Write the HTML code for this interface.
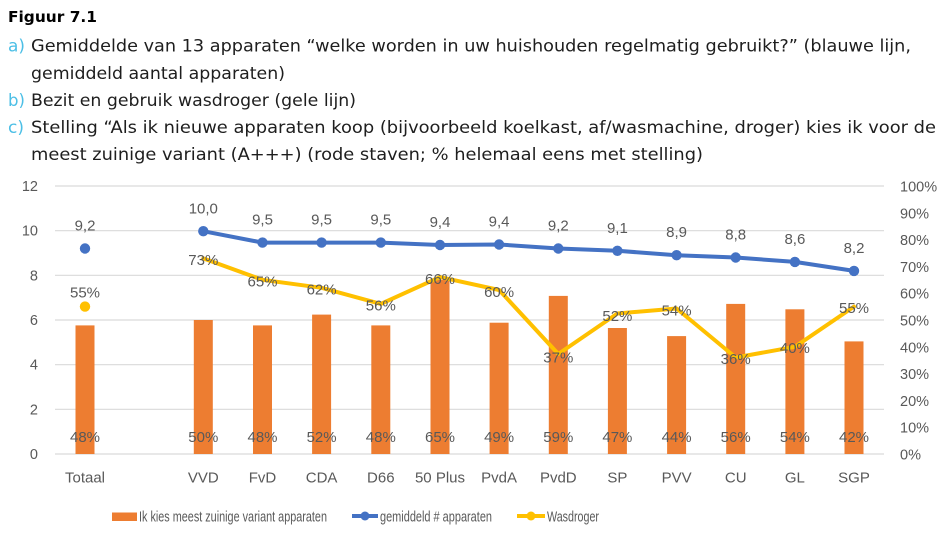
<!DOCTYPE html>
<html>
<head>
<meta charset="utf-8">
<style>
  html,body{margin:0;padding:0;background:#fff;}
  svg{display:block;}
  .hd{font-family:"DejaVu Sans","Liberation Sans",sans-serif;font-size:16.5px;fill:#1e1e1e;}
  .lb{font-family:"DejaVu Sans","Liberation Sans",sans-serif;font-size:16.5px;fill:#4cbfe6;}
  .ax{font-family:"Liberation Sans",sans-serif;font-size:14.5px;fill:#595959;}
  .cat{font-family:"Liberation Sans",sans-serif;font-size:15px;fill:#595959;text-anchor:middle;}
  .dl{font-family:"Liberation Sans",sans-serif;font-size:15px;fill:#595959;text-anchor:middle;}
  .lg{font-family:"Liberation Sans",sans-serif;font-size:14.5px;fill:#595959;}
</style>
</head>
<body>
<svg width="952" height="552" viewBox="0 0 952 552" xmlns="http://www.w3.org/2000/svg">
  <rect width="952" height="552" fill="#fff"/>

  <!-- Header -->
  <text x="8" y="22" font-family="DejaVu Sans, Liberation Sans, sans-serif" font-weight="bold" font-size="15" fill="#000" textLength="89" lengthAdjust="spacingAndGlyphs">Figuur 7.1</text>
  <text class="lb" x="8" y="51.5" textLength="17" lengthAdjust="spacingAndGlyphs">a)</text>
  <text class="hd" x="31" y="51.5" textLength="880" lengthAdjust="spacingAndGlyphs">Gemiddelde van 13 apparaten “welke worden in uw huishouden regelmatig gebruikt?” (blauwe lijn,</text>
  <text class="hd" x="31" y="79" textLength="254" lengthAdjust="spacingAndGlyphs">gemiddeld aantal apparaten)</text>
  <text class="lb" x="8" y="106" textLength="17" lengthAdjust="spacingAndGlyphs">b)</text>
  <text class="hd" x="31" y="106" textLength="325" lengthAdjust="spacingAndGlyphs">Bezit en gebruik wasdroger (gele lijn)</text>
  <text class="lb" x="8" y="133" textLength="16" lengthAdjust="spacingAndGlyphs">c)</text>
  <text class="hd" x="31" y="133" textLength="905" lengthAdjust="spacingAndGlyphs">Stelling “Als ik nieuwe apparaten koop (bijvoorbeeld koelkast, af/wasmachine, droger) kies ik voor de</text>
  <text class="hd" x="31" y="160" textLength="672" lengthAdjust="spacingAndGlyphs">meest zuinige variant (A+++) (rode staven; % helemaal eens met stelling)</text>

  <!-- Gridlines -->
  <g stroke="#d9d9d9" stroke-width="1.2">
    <line x1="55" y1="186" x2="884" y2="186"/>
    <line x1="55" y1="230.7" x2="884" y2="230.7"/>
    <line x1="55" y1="275.3" x2="884" y2="275.3"/>
    <line x1="55" y1="320" x2="884" y2="320"/>
    <line x1="55" y1="364.7" x2="884" y2="364.7"/>
    <line x1="55" y1="409.3" x2="884" y2="409.3"/>
    <line x1="55" y1="454" x2="884" y2="454"/>
  </g>

  <!-- Left axis -->
  <g class="ax" text-anchor="end">
    <text x="38" y="191">12</text>
    <text x="38" y="235.7">10</text>
    <text x="38" y="280.3">8</text>
    <text x="38" y="325">6</text>
    <text x="38" y="369.7">4</text>
    <text x="38" y="414.3">2</text>
    <text x="38" y="459">0</text>
  </g>
  <!-- Right axis -->
  <g class="ax" text-anchor="start">
    <text x="900" y="191.5">100%</text>
    <text x="900" y="218.3">90%</text>
    <text x="900" y="245.1">80%</text>
    <text x="900" y="271.9">70%</text>
    <text x="900" y="298.7">60%</text>
    <text x="900" y="325.5">50%</text>
    <text x="900" y="352.3">40%</text>
    <text x="900" y="379.1">30%</text>
    <text x="900" y="405.9">20%</text>
    <text x="900" y="432.7">10%</text>
    <text x="900" y="459.5">0%</text>
  </g>

  <!-- Bars -->
  <g fill="#ed7d31">
    <rect x="75.5" y="325.4" width="19" height="128.6"/>
    <rect x="193.8" y="320" width="19" height="134"/>
    <rect x="253" y="325.4" width="19" height="128.6"/>
    <rect x="312.1" y="314.6" width="19" height="139.4"/>
    <rect x="371.3" y="325.4" width="19" height="128.6"/>
    <rect x="430.5" y="279.8" width="19" height="174.2"/>
    <rect x="489.6" y="322.7" width="19" height="131.3"/>
    <rect x="548.8" y="295.9" width="19" height="158.1"/>
    <rect x="607.9" y="328" width="19" height="126"/>
    <rect x="667.1" y="336.1" width="19" height="117.9"/>
    <rect x="726.2" y="303.9" width="19" height="150.1"/>
    <rect x="785.4" y="309.3" width="19" height="144.7"/>
    <rect x="844.5" y="341.4" width="19" height="112.6"/>
  </g>

  <!-- Bar labels -->
  <g class="dl">
    <text x="85" y="442">48%</text>
    <text x="203.3" y="442">50%</text>
    <text x="262.5" y="442">48%</text>
    <text x="321.6" y="442">52%</text>
    <text x="380.8" y="442">48%</text>
    <text x="440" y="442">65%</text>
    <text x="499.1" y="442">49%</text>
    <text x="558.3" y="442">59%</text>
    <text x="617.4" y="442">47%</text>
    <text x="676.6" y="442">44%</text>
    <text x="735.7" y="442">56%</text>
    <text x="794.9" y="442">54%</text>
    <text x="854" y="442">42%</text>
  </g>

  <!-- Yellow line (Wasdroger) -->
  <polyline fill="none" stroke="#ffc000" stroke-width="4" stroke-linejoin="round" stroke-linecap="round"
    points="203.3,258.4 262.5,279.8 321.6,287.8 380.8,303.9 440,277.1 499.1,290 558.3,354 617.4,313.5 676.6,308.5 735.7,357.5 794.9,346.8 854,306.6"/>
  <circle cx="85" cy="306.6" r="5.2" fill="#ffc000"/>

  <!-- Blue line (gemiddeld) -->
  <polyline fill="none" stroke="#4472c4" stroke-width="4" stroke-linejoin="round"
    points="203.3,231.2 262.5,242.6 321.6,242.6 380.8,242.6 440,245 499.1,244.5 558.3,248.5 617.4,250.8 676.6,255.2 735.7,257.5 794.9,261.9 854,270.9"/>
  <g fill="#4472c4">
    <circle cx="85" cy="248.5" r="5.2"/>
    <circle cx="203.3" cy="231.2" r="5.2"/>
    <circle cx="262.5" cy="242.6" r="5.2"/>
    <circle cx="321.6" cy="242.6" r="5.2"/>
    <circle cx="380.8" cy="242.6" r="5.2"/>
    <circle cx="440" cy="245" r="5.2"/>
    <circle cx="499.1" cy="244.5" r="5.2"/>
    <circle cx="558.3" cy="248.5" r="5.2"/>
    <circle cx="617.4" cy="250.8" r="5.2"/>
    <circle cx="676.6" cy="255.2" r="5.2"/>
    <circle cx="735.7" cy="257.5" r="5.2"/>
    <circle cx="794.9" cy="261.9" r="5.2"/>
    <circle cx="854" cy="270.9" r="5.2"/>
  </g>

  <!-- Blue labels -->
  <g class="dl">
    <text x="85" y="230.5">9,2</text>
    <text x="203.3" y="213.3">10,0</text>
    <text x="262.5" y="224.6">9,5</text>
    <text x="321.6" y="224.6">9,5</text>
    <text x="380.8" y="224.6">9,5</text>
    <text x="440" y="227">9,4</text>
    <text x="499.1" y="226.5">9,4</text>
    <text x="558.3" y="230.5">9,2</text>
    <text x="617.4" y="232.8">9,1</text>
    <text x="676.6" y="237.2">8,9</text>
    <text x="735.7" y="239.5">8,8</text>
    <text x="794.9" y="243.9">8,6</text>
    <text x="854" y="252.9">8,2</text>
  </g>

  <!-- Yellow labels -->
  <g class="dl">
    <text x="85" y="297.6">55%</text>
    <text x="203.3" y="265">73%</text>
    <text x="262.5" y="286.5">65%</text>
    <text x="321.6" y="294.5">62%</text>
    <text x="380.8" y="310.5">56%</text>
    <text x="440" y="284">66%</text>
    <text x="499.1" y="297">60%</text>
    <text x="558.3" y="362.5">37%</text>
    <text x="617.4" y="321">52%</text>
    <text x="676.6" y="315.5">54%</text>
    <text x="735.7" y="364">36%</text>
    <text x="794.9" y="353">40%</text>
    <text x="854" y="313">55%</text>
  </g>

  <!-- Category labels -->
  <g class="cat">
    <text x="85" y="482.5">Totaal</text>
    <text x="203.3" y="482.5">VVD</text>
    <text x="262.5" y="482.5">FvD</text>
    <text x="321.6" y="482.5">CDA</text>
    <text x="380.8" y="482.5">D66</text>
    <text x="440" y="482.5">50 Plus</text>
    <text x="499.1" y="482.5">PvdA</text>
    <text x="558.3" y="482.5">PvdD</text>
    <text x="617.4" y="482.5">SP</text>
    <text x="676.6" y="482.5">PVV</text>
    <text x="735.7" y="482.5">CU</text>
    <text x="794.9" y="482.5">GL</text>
    <text x="854" y="482.5">SGP</text>
  </g>

  <!-- Legend -->
  <rect x="112" y="512.5" width="25" height="8.5" fill="#ed7d31"/>
  <text class="lg" x="139" y="521.5" textLength="188" lengthAdjust="spacingAndGlyphs">Ik kies meest zuinige variant apparaten</text>
  <line x1="352" y1="516" x2="378" y2="516" stroke="#4472c4" stroke-width="4"/>
  <circle cx="365" cy="516" r="4.5" fill="#4472c4"/>
  <text class="lg" x="380" y="521.5" textLength="112" lengthAdjust="spacingAndGlyphs">gemiddeld # apparaten</text>
  <line x1="517" y1="516" x2="545" y2="516" stroke="#ffc000" stroke-width="4"/>
  <circle cx="531" cy="516" r="4.5" fill="#ffc000"/>
  <text class="lg" x="547" y="521.5" textLength="52" lengthAdjust="spacingAndGlyphs">Wasdroger</text>
</svg>
</body>
</html>
